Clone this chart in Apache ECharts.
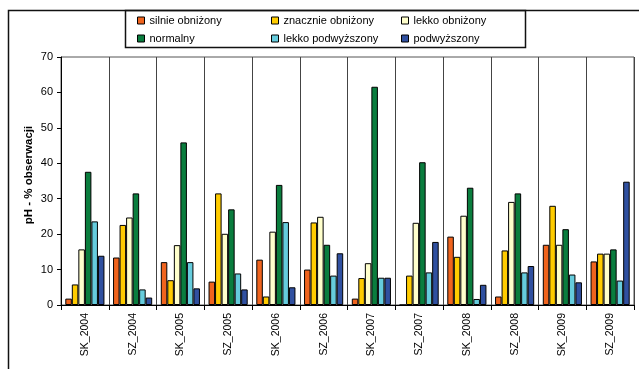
<!DOCTYPE html>
<html>
<head>
<meta charset="utf-8">
<script src="https://cdn.jsdelivr.net/npm/echarts@6/dist/echarts.min.js"></script>
<style>
  html, body { margin: 0; padding: 0; background: #fff; }
  #chart { width: 639px; height: 369px; }
</style>
</head>
<body>
<div id="chart"></div>
<script>
// Sampling sites and years
const categories = ['SK_2004', 'SZ_2004', 'SK_2005', 'SZ_2005', 'SK_2006', 'SZ_2006',
                    'SK_2007', 'SZ_2007', 'SK_2008', 'SZ_2008', 'SK_2009', 'SZ_2009'];

// Share of observations (%) in each pH class
const silnieObnizony   = [1.8, 13.4, 12.1, 6.6, 12.8, 10.0, 1.8, 0,    19.3, 2.4, 17.0, 12.3];
const znacznieObnizony = [5.8, 22.6, 7.0, 31.5, 2.4, 23.3, 7.6, 8.3,  13.6, 15.4, 28.0, 14.5];
const lekkoObnizony    = [15.7, 24.7, 16.9, 20.1, 20.7, 24.9, 11.8, 23.2, 25.2, 29.1, 17.0, 14.5];
const normalny         = [37.6, 31.5, 45.9, 27.0, 33.9, 17.0, 61.6, 40.3, 33.1, 31.5, 21.4, 15.7];
const lekkoPodwyzszony = [23.6, 4.4, 12.1, 8.9, 23.4, 8.3, 7.7, 9.2,  1.7, 9.2, 8.6, 6.9];
const podwyzszony      = [13.9, 2.1, 4.7, 4.4, 5.0, 14.6, 7.7, 17.8, 5.7, 11.0, 6.4, 34.8];

const yTicks = { min: 0, max: 70, step: 10 };

const seriesDefs = [
  { name: 'silnie obniżony',   data: silnieObnizony,   color: '#F0641E' },
  { name: 'znacznie obniżony', data: znacznieObnizony, color: '#FFCC00' },
  { name: 'lekko obniżony',    data: lekkoObnizony,    color: '#FFFFCC' },
  { name: 'normalny',          data: normalny,         color: '#0A7D3E' },
  { name: 'lekko podwyższony', data: lekkoPodwyzszony, color: '#66CCDD' },
  { name: 'podwyższony',       data: podwyzszony,      color: '#3050A0' }
];

const FONT = "'Liberation Sans', Arial, sans-serif";

// Legend laid out as a 3x2 table of fixed columns
const legendSlots = [
  { left: 137, top: 15 }, { left: 271, top: 15 }, { left: 401, top: 15 },
  { left: 137, top: 33 }, { left: 271, top: 33 }, { left: 401, top: 33 }
];

const legends = seriesDefs.map((s, i) => ({
  data: [s.name],
  left: legendSlots[i].left,
  top: legendSlots[i].top,
  padding: 0,
  icon: 'rect',
  itemWidth: 7,
  itemHeight: 7,
  selectedMode: false,
  itemStyle: { borderColor: '#000', borderWidth: 1 },
  textStyle: { fontFamily: FONT, fontSize: 11, color: '#000' }
}));

const chart = echarts.init(document.getElementById('chart'), null, { renderer: 'canvas' });

chart.setOption({
  animation: false,
  backgroundColor: '#fff',
  legend: legends,
  grid: {
    left: 61, top: 57, right: 5, bottom: 64,
    show: true, borderColor: '#555', borderWidth: 1, backgroundColor: 'transparent'
  },
  graphic: [
    // outer frame
    { type: 'rect', shape: { x: 8.5, y: 10.5, width: 700, height: 400 },
      style: { fill: 'none', stroke: '#111', lineWidth: 1.5 }, silent: true },
    // legend frame
    { type: 'rect', shape: { x: 125.5, y: 10.5, width: 400, height: 37 },
      style: { fill: 'none', stroke: '#111', lineWidth: 1.5 }, silent: true }
  ],
  xAxis: {
    type: 'category',
    data: categories,
    boundaryGap: true,
    axisLine: { lineStyle: { color: '#000', width: 1 } },
    axisTick: { show: true, length: 5, lineStyle: { color: '#000' } },
    splitLine: { show: true, lineStyle: { color: '#444', width: 1 } },
    axisLabel: { rotate: 90, margin: 8, fontFamily: FONT, fontSize: 10.5, color: '#000', interval: 0 }
  },
  yAxis: {
    type: 'value',
    min: yTicks.min, max: yTicks.max, interval: yTicks.step,
    name: 'pH - % obserwacji',
    nameLocation: 'middle',
    nameGap: 26,
    nameMoveOverlap: false,
    nameRotate: 90,
    nameTextStyle: { fontFamily: FONT, fontSize: 11.5, fontWeight: 'bold', color: '#000', padding: [0, 0, 0, 12] },
    axisLine: { show: true, lineStyle: { color: '#000', width: 1 } },
    axisTick: { show: true, length: 4, lineStyle: { color: '#000' } },
    splitLine: { show: false },
    axisLabel: { margin: 8, fontFamily: FONT, fontSize: 11, color: '#000' }
  },
  series: seriesDefs.map(s => ({
    name: s.name,
    type: 'bar',
    data: s.data,
    barGap: '0%',
    barCategoryGap: '18%',
    itemStyle: { color: s.color, borderColor: '#000', borderWidth: 1 },
    emphasis: { disabled: true }
  }))
});
</script>
</body>
</html>
